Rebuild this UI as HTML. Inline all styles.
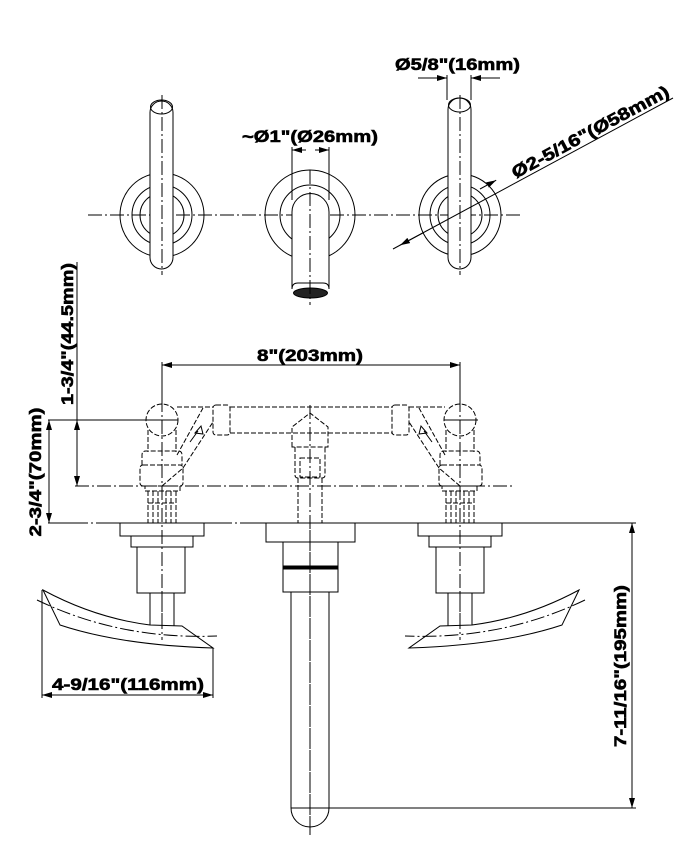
<!DOCTYPE html>
<html><head><meta charset="utf-8"><style>
html,body{margin:0;padding:0;background:#fff;}
svg{display:block;}
text{font-family:"Liberation Sans",Arial,sans-serif;font-weight:bold;font-size:17px;fill:#000;stroke:#000;stroke-width:0.6;}
</style></head><body>
<svg width="700" height="845" viewBox="0 0 700 845" xmlns="http://www.w3.org/2000/svg">
<defs>
<marker id="a" viewBox="0 0 10 6" refX="10" refY="3" markerWidth="10" markerHeight="6" orient="auto-start-reverse" markerUnits="userSpaceOnUse"><path d="M0,0 L10,3 L0,6 z" fill="#000"/></marker>
</defs>
<g fill="none" stroke="#000" stroke-width="1">
<!-- TOP VIEW -->
<line x1="88" y1="215" x2="520" y2="215" stroke-dasharray="14 3 2 3"/>
<circle cx="162" cy="215" r="42"/><circle cx="162" cy="215" r="30"/><circle cx="162" cy="215" r="22"/>
<rect x="150" y="101" width="23" height="168" rx="11.5" fill="#fff"/>
<ellipse cx="161.5" cy="107" rx="11" ry="7"/>
<line x1="162" y1="95" x2="162" y2="275" stroke-dasharray="14 3 2 3"/>
<circle cx="460" cy="215" r="41"/><circle cx="460" cy="215" r="30"/><circle cx="460" cy="215" r="22"/>
<rect x="448" y="98" width="23" height="171" rx="11.5" fill="#fff"/>
<ellipse cx="459.5" cy="105" rx="11" ry="7"/>
<line x1="460" y1="95" x2="460" y2="275" stroke-dasharray="14 3 2 3"/>
<circle cx="310" cy="215" r="45"/><circle cx="310" cy="215" r="30"/>
<path d="M292,289 L292,212 A18,18 0 0 1 329,212 L329,289" fill="#fff"/>
<path d="M292,289 Q292,283 298,283 L323,283 Q329,283 329,289"/>
<ellipse cx="310.5" cy="293" rx="17" ry="5" fill="#222"/>
<line x1="310" y1="170" x2="310" y2="305" stroke-dasharray="14 3 2 3"/>
<line x1="292" y1="147" x2="292" y2="200"/><line x1="329" y1="147" x2="329" y2="200"/>
<line x1="292" y1="150" x2="306" y2="150" marker-start="url(#a)"/>
<line x1="315" y1="150" x2="329" y2="150" marker-end="url(#a)"/>
<line x1="447" y1="75" x2="447" y2="100"/><line x1="471" y1="75" x2="471" y2="100"/>
<line x1="418" y1="78" x2="447" y2="78" marker-end="url(#a)"/>
<line x1="500" y1="78" x2="471" y2="78" marker-end="url(#a)"/>
<line x1="393" y1="249" x2="673" y2="98"/>
<line x1="400" y1="245.2" x2="423.8" y2="232.4" marker-start="url(#a)"/>
<line x1="480" y1="189" x2="496.2" y2="180.2" marker-end="url(#a)"/>

<!-- ELEVATION -->
<line x1="162" y1="362" x2="162" y2="405"/><line x1="460" y1="362" x2="460" y2="405"/>
<line x1="162" y1="365" x2="460" y2="365" marker-start="url(#a)" marker-end="url(#a)"/>
<line x1="48" y1="420" x2="178" y2="420"/>
<line x1="444" y1="420" x2="478" y2="420"/>
<line x1="75" y1="486" x2="515" y2="486" stroke-dasharray="14 3 2 3"/>
<line x1="48" y1="523" x2="632" y2="523" stroke-dasharray="40 3 2 3"/>
<line x1="77" y1="262" x2="77" y2="486"/>
<line x1="77" y1="440" x2="77" y2="420" marker-end="url(#a)"/>
<line x1="77" y1="466" x2="77" y2="486" marker-end="url(#a)"/>
<line x1="49" y1="420" x2="49" y2="523" marker-start="url(#a)" marker-end="url(#a)"/>

<g stroke-dasharray="5 2">
<circle cx="162" cy="420" r="16"/>
<path d="M148,430 L148,452 M176,430 L176,452"/>
<path d="M142,465 L142,455 Q142,451 146,451 L178,451 Q182,451 182,455 L182,465"/>
<rect x="140" y="465" width="43" height="21" rx="3"/>
<rect x="145" y="486" width="35" height="5"/>
<path d="M148,491 V523 M153,491 V523 M158,491 V523 M166,491 V523 M171,491 V523 M176,491 V523 M148,503 H176"/>
<circle cx="460" cy="420" r="16"/>
<path d="M446,430 L446,452 M474,430 L474,452"/>
<path d="M440,465 L440,455 Q440,451 444,451 L476,451 Q480,451 480,455 L480,465"/>
<rect x="439" y="465" width="43" height="21" rx="3"/>
<rect x="442" y="486" width="35" height="5"/>
<path d="M446,491 V523 M451,491 V523 M456,491 V523 M464,491 V523 M469,491 V523 M474,491 V523 M446,503 H474"/>
<path d="M177,407 H213 M230,407 H392 M409,407 H445 M230,433 H392"/>
<rect x="213" y="405" width="17" height="30" rx="3"/>
<rect x="392" y="405" width="17" height="30" rx="3"/>
<path d="M177,455 L203,408 M183,468 L213,422 M445,455 L419,408 M439,468 L409,422"/>
<path d="M292,447 V427 L310,413 L328,427 V447 Z"/>
<path d="M295,447 V475 Q295,478 298,478 H322 Q325,478 325,475 V447"/>
<rect x="300" y="458" width="20" height="19"/>
<path d="M298,478 V523 M322,478 V523"/>
</g>
<path d="M195,433 L201,426 L203,434 Z M190,442 L198,431"/>
<path d="M427,433 L421,426 L419,434 Z M432,442 L424,431"/>
<line x1="162" y1="398" x2="162" y2="640" stroke-dasharray="14 3 2 3"/>
<line x1="460" y1="398" x2="460" y2="640" stroke-dasharray="14 3 2 3"/>
<line x1="310" y1="405" x2="310" y2="835" stroke-dasharray="14 3 2 3"/>
<line x1="162" y1="486" x2="183" y2="468" stroke-dasharray="5 2"/>
<line x1="460" y1="486" x2="439" y2="468" stroke-dasharray="5 2"/>

<!-- BOTTOM -->
<rect x="120" y="523" width="84" height="13"/>
<rect x="131" y="536" width="62" height="11"/>
<rect x="137" y="547" width="48" height="46"/>
<rect x="150" y="593" width="24" height="33"/>
<path d="M43,590 Q95,618 150,625 L182,626 L213,648 Q120,645 60,625 Z" fill="#fff"/>
<path d="M37,600 Q120,640 217,636" stroke-dasharray="14 3 2 3"/>
<line x1="162" y1="593" x2="162" y2="640" stroke-dasharray="14 3 2 3"/>
<rect x="418" y="523" width="84" height="13"/>
<rect x="429" y="536" width="62" height="11"/>
<rect x="436" y="547" width="48" height="46"/>
<rect x="448" y="593" width="24" height="33"/>
<path d="M579,590 Q527,618 472,625 L440,626 L409,648 Q502,645 562,625 Z" fill="#fff"/>
<path d="M585,600 Q502,640 405,636" stroke-dasharray="14 3 2 3"/>
<line x1="460" y1="593" x2="460" y2="640" stroke-dasharray="14 3 2 3"/>
<rect x="266" y="523" width="89" height="19"/>
<rect x="283" y="542" width="55" height="25"/>
<rect x="283" y="566" width="55" height="3" fill="#000"/>
<rect x="283" y="569" width="55" height="23"/>
<path d="M291,592 V808 A19,19 0 0 0 329,808 V592"/>
<line x1="291" y1="808" x2="329" y2="808"/>
<line x1="310" y1="530" x2="310" y2="835" stroke-dasharray="14 3 2 3"/>
<line x1="355" y1="523" x2="636" y2="523"/>
<line x1="329" y1="808" x2="636" y2="808"/>
<line x1="632" y1="523" x2="632" y2="808" marker-start="url(#a)" marker-end="url(#a)"/>
<line x1="42" y1="590" x2="42" y2="698"/>
<line x1="213" y1="648" x2="213" y2="698"/>
<line x1="42" y1="695" x2="213" y2="695" marker-start="url(#a)" marker-end="url(#a)"/>
</g>
<text x="242" y="142" textLength="136" lengthAdjust="spacingAndGlyphs">~Ø1"(Ø26mm)</text>
<text x="395" y="70" textLength="125" lengthAdjust="spacingAndGlyphs">Ø5/8"(16mm)</text>
<text transform="translate(593,137) rotate(-28.3)" text-anchor="middle" x="0" y="0" textLength="176" lengthAdjust="spacingAndGlyphs">Ø2-5/16"(Ø58mm)</text>
<text x="257" y="361" textLength="106" lengthAdjust="spacingAndGlyphs">8"(203mm)</text>
<text transform="translate(73,334) rotate(-90)" text-anchor="middle" textLength="142" lengthAdjust="spacingAndGlyphs">1-3/4"(44.5mm)</text>
<text transform="translate(41,472) rotate(-90)" text-anchor="middle" textLength="129" lengthAdjust="spacingAndGlyphs">2-3/4"(70mm)</text>
<text x="52" y="690" textLength="152" lengthAdjust="spacingAndGlyphs">4-9/16"(116mm)</text>
<text transform="translate(626,666) rotate(-90)" text-anchor="middle" textLength="162" lengthAdjust="spacingAndGlyphs">7-11/16"(195mm)</text>
</svg>
</body></html>
